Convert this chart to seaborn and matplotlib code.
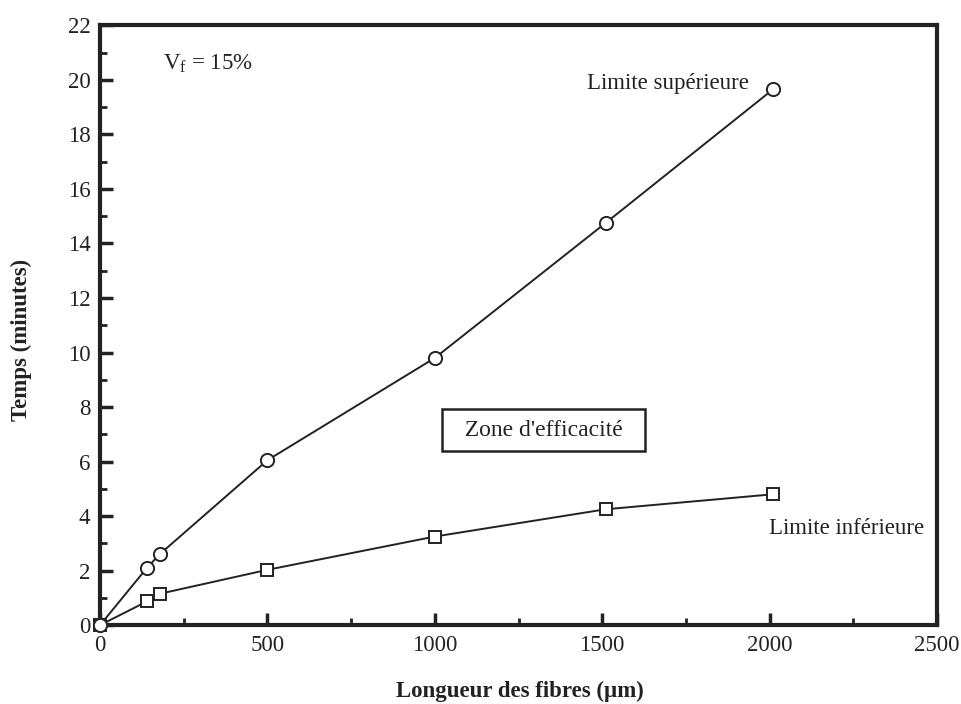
import matplotlib
matplotlib.use("Agg")
import matplotlib.pyplot as plt
import seaborn as sns
import pandas as pd
from matplotlib.ticker import MultipleLocator

# Data
x_sup = [0, 140, 178, 500, 1000, 1510, 2010]
y_sup = [0, 2.1, 2.6, 6.05, 9.8, 14.75, 19.65]
x_inf = [0, 140, 178, 500, 1000, 1510, 2010]
y_inf = [0, 0.87, 1.15, 2.03, 3.25, 4.25, 4.8]

x_ticks = [0, 500, 1000, 1500, 2000, 2500]
y_ticks = [0, 2, 4, 6, 8, 10, 12, 14, 16, 18, 20, 22]

sns.set_theme(style="white")
plt.rcParams['font.family'] = ['Liberation Serif', 'DejaVu Serif']
plt.rcParams['mathtext.fontset'] = 'custom'
plt.rcParams['mathtext.rm'] = 'Liberation Serif'
plt.rcParams['mathtext.it'] = 'Liberation Serif:italic'

df_sup = pd.DataFrame({"x": x_sup, "y": y_sup})
df_inf = pd.DataFrame({"x": x_inf, "y": y_inf})

fig = plt.figure(figsize=(9.62, 7.04), dpi=100)
ax = fig.add_axes([0.104, 0.112, 0.870, 0.852])

sns.lineplot(data=df_inf, x="x", y="y", ax=ax, color="#222222", linewidth=1.4,
             marker="s", markersize=8.5, markerfacecolor="white",
             markeredgecolor="#222222", markeredgewidth=1.4, zorder=3,
             clip_on=False)
sns.lineplot(data=df_sup, x="x", y="y", ax=ax, color="#222222", linewidth=1.4,
             marker="o", markersize=9.5, markerfacecolor="white",
             markeredgecolor="#222222", markeredgewidth=1.4, zorder=4,
             clip_on=False)

ax.set_xlim(0, 2500)
ax.set_ylim(0, 22)
ax.set_xticks(x_ticks)
ax.set_yticks(y_ticks)
ax.xaxis.set_minor_locator(MultipleLocator(250))
ax.yaxis.set_minor_locator(MultipleLocator(1))
ax.tick_params(axis="both", which="both", bottom=True, left=True,
               top=False, right=False, direction="in")
ax.tick_params(axis="both", which="major", length=9, width=2.5,
               labelsize=16.5, colors="#222222", pad=7)
ax.tick_params(axis="both", which="minor", length=5, width=2,
               colors="#222222")
for s in ax.spines.values():
    s.set_visible(True)
    s.set_linewidth(3)
    s.set_color("#222222")

ax.set_xlabel("Longueur des fibres (µm)", fontsize=16.5, fontweight="bold",
              color="#222222")
ax.set_ylabel("Temps (minutes)", fontsize=16.5, fontweight="bold",
              color="#222222")
ax.xaxis.set_label_coords(0.502, -0.092)
ax.yaxis.set_label_coords(-0.081, 0.475)

ax.text(188, 20.6, r"V$_\mathrm{f}$ = 15%", fontsize=16.5, color="#222222",
        ha="left", va="center")
ax.text(1695, 19.85, "Limite supérieure", fontsize=16.5, color="#222222",
        ha="center", va="center")
ax.text(2231, 3.55, "Limite inférieure", fontsize=16.5, color="#222222",
        ha="center", va="center")
ax.text(1325, 7.15, "  Zone d'efficacité  ", fontsize=17, color="#222222",
        ha="center", va="center",
        bbox=dict(boxstyle="square,pad=0.45", facecolor="white",
                  edgecolor="#222222", linewidth=1.8))

fig.savefig("out.png", dpi=100)
